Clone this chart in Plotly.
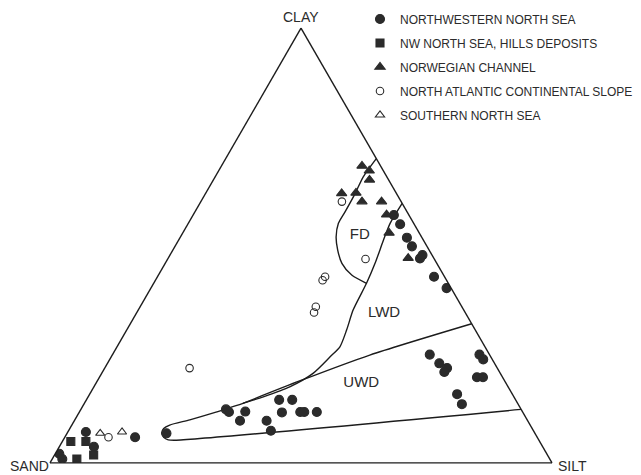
import plotly.graph_objects as go

# ---- data: (clay, silt, sand) in percent ----
nw_clay = [7.1, 3.7, 5.9, 2.1, 0.9, 6.8, 12.3, 11.7, 11.8, 9.7, 9.7, 7.4, 14.5, 14.5, 11.6, 11.7, 11.7, 11.7,
           24.9, 22.9, 21.8, 20.9, 24.9, 23.8, 19.7, 19.7, 15.8, 13.5,
           57.0, 54.9, 51.8, 49.8, 47.0, 47.8, 42.8, 40.2]
nw_silt = [3.6, 6.9, 14.0, 0.8, 2.0, 19.8, 28.9, 29.8, 33.0, 33.0, 38.3, 40.3, 38.4, 41.0, 40.4, 44.0, 44.8, 47.3,
           63.2, 66.1, 68.2, 68.1, 73.1, 74.4, 75.2, 76.4, 73.2, 75.3,
           40.0, 42.3, 45.2, 47.2, 50.2, 50.3, 55.1, 58.9]

hills_clay = [4.9, 4.9, 1.8, 0.9]
hills_silt = [1.7, 4.7, 7.8, 4.9]

norw_clay = [68.3, 67.2, 65.1, 62.0, 62.1, 60.1, 60.1, 57.1, 52.9, 47.1]
norw_silt = [28.0, 30.0, 31.1, 27.1, 29.9, 32.1, 36.0, 38.5, 41.1, 47.8]

atl_clay = [5.9, 60.1, 46.9, 42.0, 42.8, 35.9, 34.6, 21.8]
atl_silt = [8.7, 28.1, 39.4, 33.3, 33.4, 35.0, 35.3, 16.9]

south_clay = [6.8, 7.1]
south_silt = [6.6, 10.8]

# boundary lines
fd_clay = [70.0, 65.8, 62.0, 57.8, 55.1, 52.0, 49.0, 45.9, 43.2, 41.3]
fd_silt = [30.0, 29.5, 29.8, 29.9, 29.9, 31.0, 32.8, 35.2, 38.5, 42.4]

main_clay = [59.7, 55.1, 51.3, 45.9, 41.3, 35.2, 30.6, 26.7, 24.4, 20.6, 17.5, 15.2, 13.7, 11.6, 9.9, 8.7,
             7.9, 6.9, 5.9, 5.3, 5.2, 12.3]
main_silt = [40.3, 40.2, 40.8, 41.8, 42.4, 42.8, 43.8, 44.4, 43.6, 42.1, 39.0, 34.9, 31.6, 27.1, 22.9, 19.5,
             18.7, 18.8, 19.7, 20.9, 22.3, 87.7]

uwd_clay = [32.0, 24.8, 18.9, 13.7]
uwd_silt = [68.0, 51.3, 40.4, 31.6]

zone_names = ["FD", "LWD", "UWD"]
zone_clay = [52.4, 34.5, 18.4]
zone_silt = [35.5, 49.3, 52.8]

corner_labels = ["CLAY", "SAND", "SILT"]


def sand(clay, silt):
    return [round(100 - a - c, 2) for a, c in zip(clay, silt)]


INK = "#2b2b2b"
LINE = "#1c1c1c"
FONT = "Liberation Sans, Arial, sans-serif"

# the page body adds an 8px offset; the figure fills the remaining window
W, H, OFF = 633, 467, 8


def px_x(x):
    return (x - OFF) / W


def px_y(y):
    return 1 - (y - OFF) / H


fig = go.Figure()

# region boundaries
for cl, si in [(fd_clay, fd_silt), (main_clay, main_silt), (uwd_clay, uwd_silt)]:
    fig.add_trace(go.Scatterternary(a=cl, b=sand(cl, si), c=si, mode="lines",
                                    line=dict(color=LINE, width=1.4, shape="spline", smoothing=0.7),
                                    showlegend=False, hoverinfo="skip"))

fig.add_trace(go.Scatterternary(a=zone_clay, b=sand(zone_clay, zone_silt), c=zone_silt, mode="text",
                                text=zone_names, textfont=dict(family=FONT, size=15, color=INK),
                                showlegend=False, hoverinfo="skip"))

series = [
    ("NORTHWESTERN NORTH SEA", nw_clay, nw_silt, "circle", 9),
    ("NW NORTH SEA, HILLS DEPOSITS", hills_clay, hills_silt, "square", 8),
    ("NORWEGIAN CHANNEL", norw_clay, norw_silt, "triangle-up", 9),
    ("NORTH ATLANTIC CONTINENTAL SLOPE", atl_clay, atl_silt, "circle-open", 7.5),
    ("SOUTHERN NORTH SEA", south_clay, south_silt, "triangle-up-open", 8),
]
for i, (name, cl, si, sym, size) in enumerate(series):
    fig.add_trace(go.Scatterternary(
        a=cl, b=sand(cl, si), c=si, mode="markers", name=name, legendgroup=f"g{i}",
        marker=dict(symbol=sym, size=size, color=INK, line=dict(color=INK, width=1.1)),
    ))

axis_common = dict(showgrid=False, showticklabels=False, ticks="", linecolor=LINE, linewidth=1.4,
                   showline=True, title=dict(text=""))

fig.update_layout(
    width=W, height=H,
    margin=dict(l=0, r=0, t=0, b=0, autoexpand=False),
    paper_bgcolor="white",
    font=dict(family=FONT, color=INK),
    ternary=dict(
        sum=100,
        domain=dict(x=[px_x(50), px_x(552)], y=[px_y(463), px_y(28)]),
        bgcolor="white",
        aaxis=axis_common, baxis=axis_common, caxis=axis_common,
    ),
    legend=dict(x=px_x(360), y=1 + 3.5 / H, xanchor="left", yanchor="top", bgcolor="rgba(0,0,0,0)",
                font=dict(family=FONT, size=12, color=INK), tracegroupgap=5,
                itemwidth=30),
    showlegend=True,
)

fig.add_annotation(text=corner_labels[0], x=px_x(301), y=px_y(17), xref="paper", yref="paper",
                   xanchor="center", yanchor="middle", showarrow=False,
                   font=dict(family=FONT, size=14, color=INK))
fig.add_annotation(text=corner_labels[1], x=0, y=px_y(466), xref="paper", yref="paper",
                   xanchor="left", yanchor="middle", showarrow=False,
                   font=dict(family=FONT, size=14, color=INK))
fig.add_annotation(text=corner_labels[2], x=px_x(572), y=px_y(466), xref="paper", yref="paper",
                   xanchor="center", yanchor="middle", showarrow=False,
                   font=dict(family=FONT, size=14, color=INK))

fig.write_html("out.html")
